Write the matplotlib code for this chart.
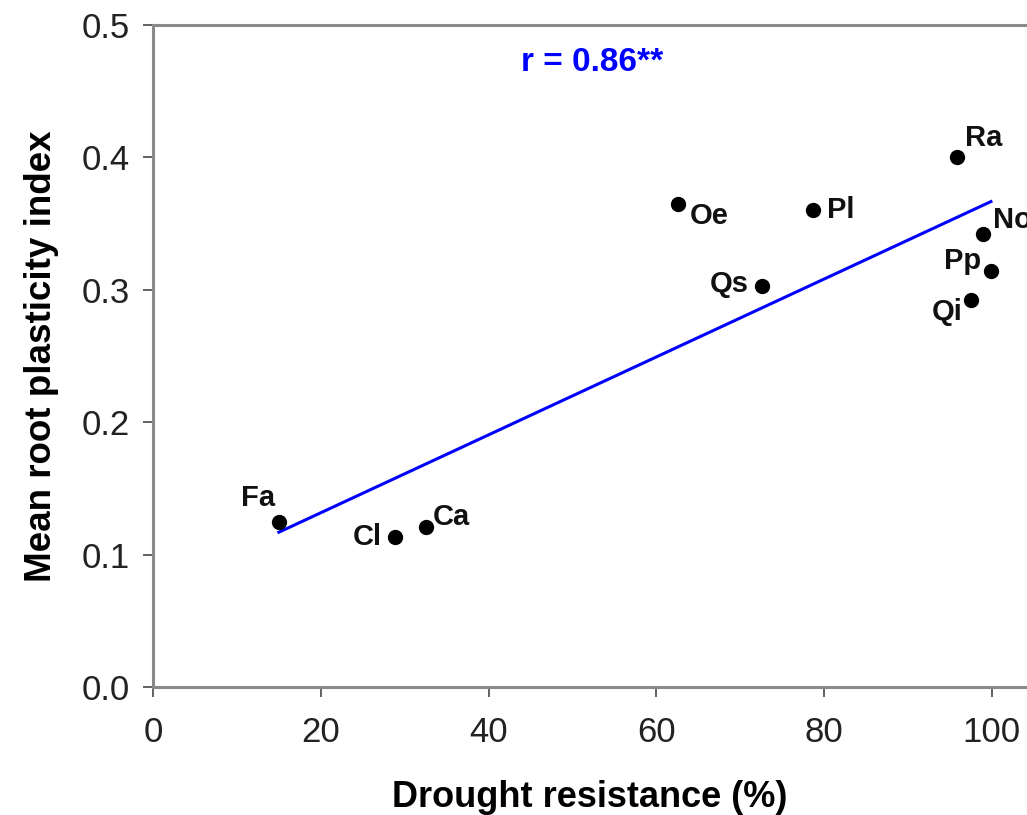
import numpy as np
import matplotlib.pyplot as plt

plt.rcParams['font.family'] = ['Liberation Sans', 'DejaVu Sans']

# Species codes and values
species = ["Fa", "Cl", "Ca", "Oe", "Pl", "Qs", "Ra", "No", "Pp", "Qi"]
drought_resistance = [15.0, 28.8, 32.5, 62.6, 78.7, 72.6, 95.9, 98.9, 99.9, 97.5]
root_plasticity = [0.125, 0.113, 0.121, 0.365, 0.360, 0.303, 0.400, 0.342, 0.314, 0.292]

x_ticks = [0, 20, 40, 60, 80, 100]
y_ticks = [0.0, 0.1, 0.2, 0.3, 0.4, 0.5]

# label offsets (pixels) for each species code
label_offsets = {
    "Fa": (-21, 23), "Cl": (-27, 0), "Ca": (26, 10), "Oe": (31, -12),
    "Pl": (28, 0), "Qs": (-33, 2), "Ra": (26, 19), "No": (30, 14),
    "Pp": (-28, 10), "Qi": (-24, -12),
}

fig = plt.figure(figsize=(10.27, 8.15), dpi=100)
ax = fig.add_axes([153 / 1027, 128 / 815, 874 / 1027, 662 / 815])

x = np.array(drought_resistance)
y = np.array(root_plasticity)

# regression line
slope, intercept = np.polyfit(x, y, 1)
xl = np.array([x.min(), x.max()])
ax.plot(xl, slope * xl + intercept, color='#0000ff', lw=2.2, zorder=2)

ax.plot(x, y, 'o', color='black', markersize=10, zorder=3)

for name, xi, yi in zip(species, x, y):
    dx, dy = label_offsets[name]
    ax.annotate(name, (xi, yi), xytext=(dx, dy), textcoords='offset pixels',
                ha='center', va='center', fontsize=21, fontweight='bold',
                color='#111111')

ax.text(52.4, 0.472, "r = 0.86**", color='#0000ff', fontsize=24,
        fontweight='bold', ha='center', va='center')

ax.set_xlim(0, 104.2)
ax.set_ylim(0, 0.5)
ax.set_xticks(x_ticks)
ax.set_yticks(y_ticks)
ax.set_yticklabels([f"{v:.1f}" for v in y_ticks])

ax.spines['right'].set_visible(False)
for side in ['left', 'bottom', 'top']:
    ax.spines[side].set_color('#8a8a8a')
    ax.spines[side].set_linewidth(2.2)

ax.tick_params(axis='both', direction='out', length=7, width=1.3,
               color='#555555', labelsize=25, labelcolor='#222222')
ax.tick_params(axis='x', pad=14)
ax.tick_params(axis='y', pad=10)

ax.set_xlabel("Drought resistance (%)", fontsize=26, fontweight='bold', labelpad=22)
ax.set_ylabel("Mean root plasticity index", fontsize=26.5, fontweight='bold', labelpad=16)

fig.savefig("out.png", dpi=100)
